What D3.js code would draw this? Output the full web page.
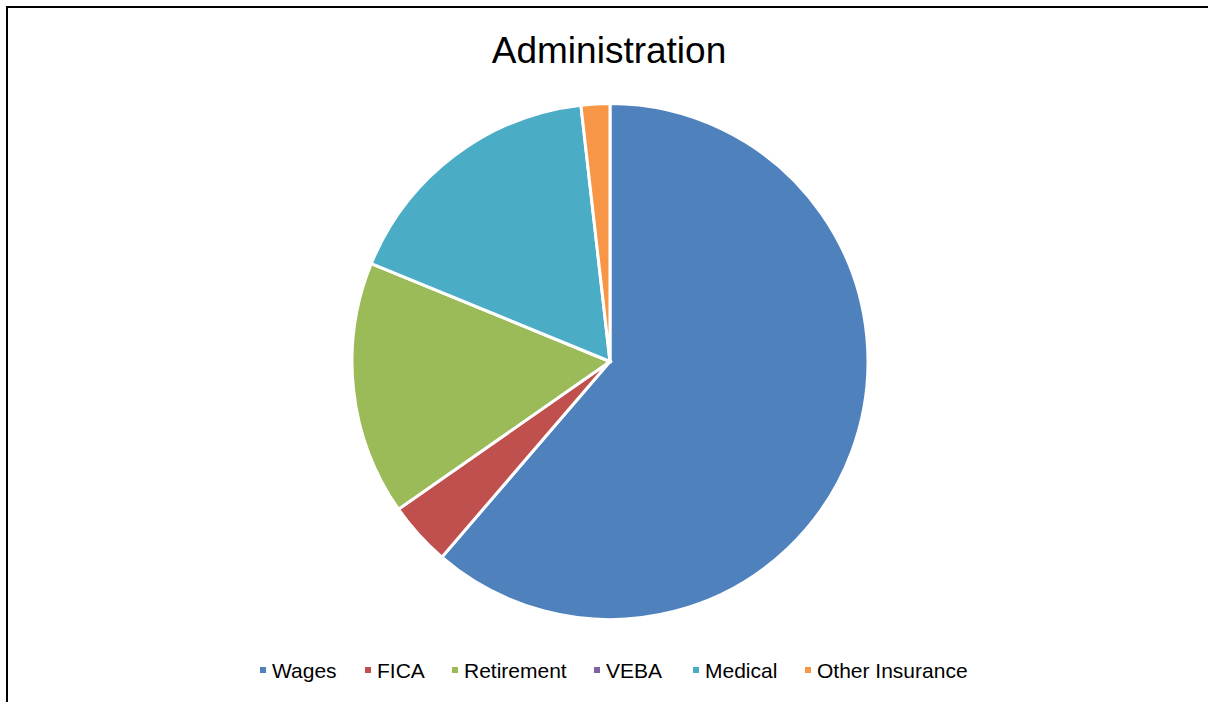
<!DOCTYPE html>
<html><head><meta charset="utf-8">
<script src="https://cdn.jsdelivr.net/npm/d3@7"></script>
<style>body{margin:0;background:#fff;}svg{display:block;}</style>
</head><body>
<svg id="chart" width="1208" height="702"></svg>
<script>
const categories = ["Wages","FICA","Retirement","VEBA","Medical","Other Insurance"];
const values = [61.3, 4.0, 15.9, 0.0, 17.0, 1.8];
const colors = ["#4F81BD","#C0504D","#9BBB59","#8064A2","#4BACC6","#F79646"];
const title = "Administration";

const svg = d3.select("#chart");
svg.append("rect").attr("x",7).attr("y",7).attr("width",1300).attr("height",800)
  .attr("fill","none").attr("stroke","#000").attr("stroke-width",2);

svg.append("text").attr("x",609).attr("y",63).attr("text-anchor","middle")
  .attr("font-family","Liberation Sans, Arial, sans-serif").attr("font-size",37).attr("fill","#000").text(title);

const cx = 610, cy = 361.5, r = 258;
const pie = d3.pie().sort(null).value(d=>d)(values);
const arc = d3.arc().innerRadius(0).outerRadius(r);
svg.append("g").attr("transform",`translate(${cx},${cy})`)
  .selectAll("path").data(pie).join("path")
  .attr("d",arc).attr("fill",(d,i)=>colors[i])
  .attr("stroke","#fff").attr("stroke-width",3).attr("stroke-linejoin","miter");

// legend
const legend = svg.append("g").attr("font-family","Liberation Sans, Arial, sans-serif").attr("font-size",21);
const xs = [272, 377, 464, 606, 705, 817];
categories.forEach((c,i)=>{
  legend.append("rect").attr("x",xs[i]-12).attr("y",667).attr("width",6).attr("height",6).attr("fill",colors[i]);
  legend.append("text").attr("x",xs[i]).attr("y",678).attr("fill","#000").text(c);
});
</script>
</body></html>
